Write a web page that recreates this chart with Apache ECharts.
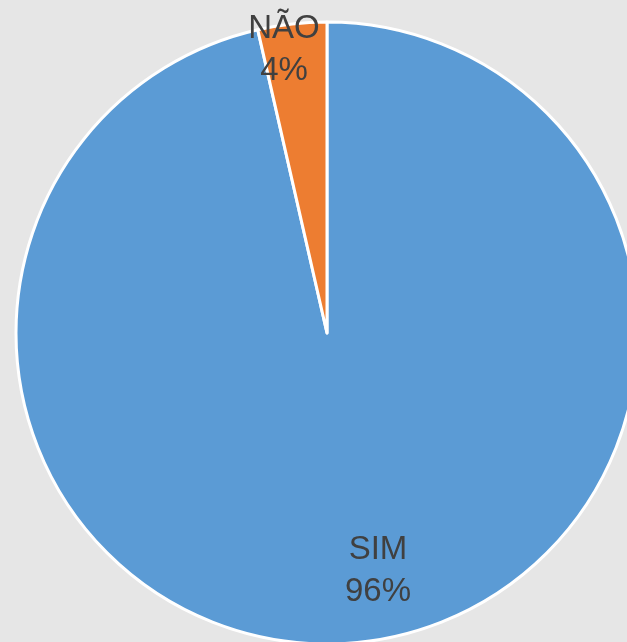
<!DOCTYPE html>
<html>
<head>
<meta charset="utf-8">
<script src="https://cdn.jsdelivr.net/npm/echarts@6/dist/echarts.min.js"></script>
<style>
  html, body { margin: 0; padding: 0; background: #e6e6e6; }
  #container { width: 627px; height: 642px; }
</style>
</head>
<body>
<div id="container"></div>
<script>
var categories = ['SIM', 'NÃO'];
var values = [27, 1];
var colors = ['#5b9bd5', '#ed7d31'];

// onde ficam os rótulos (centro do texto)
var labelPos = [[378, 571], [284, 50]];

var pieData = [];
for (var i = 0; i < categories.length; i++) {
    pieData.push({ name: categories[i], value: values[i], itemStyle: { color: colors[i] } });
}

var myChart = echarts.init(document.getElementById('container'));
var option = {
    backgroundColor: '#e6e6e6',
    animation: false,
    series: [{
        type: 'pie',
        center: [327, 333],
        radius: 311,
        startAngle: 90,
        clockwise: true,
        data: pieData,
        itemStyle: { borderColor: '#ffffff', borderWidth: 3 },
        label: {
            show: true,
            position: 'inside',
            formatter: function (p) {
                return p.name + '\n' + Math.round(p.percent) + '%';
            },
            color: '#404040',
            fontFamily: 'Liberation Sans, Arial, sans-serif',
            fontSize: 33,
            lineHeight: 42,
            align: 'center'
        },
        labelLine: { show: false },
        labelLayout: function (params) {
            var p = labelPos[params.dataIndex];
            return { x: p[0], y: p[1], align: 'center', verticalAlign: 'middle' };
        },
        emphasis: { disabled: true }
    }]
};
myChart.setOption(option);
</script>
</body>
</html>
